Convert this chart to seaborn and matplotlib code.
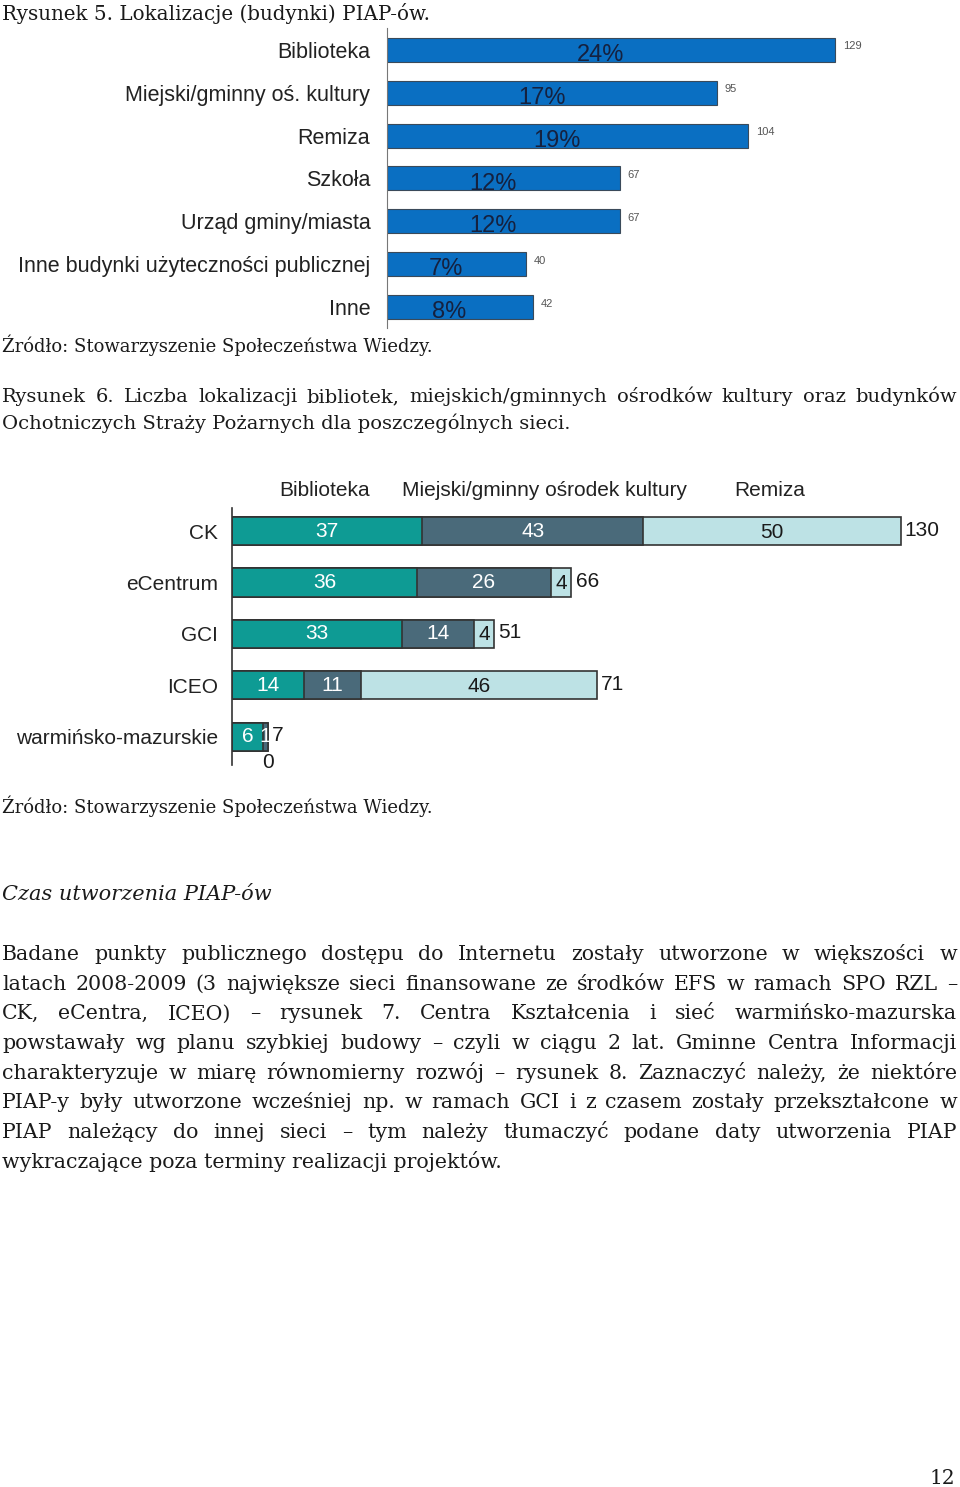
import matplotlib
matplotlib.use("Agg")
import matplotlib.pyplot as plt
import seaborn as sns

# Rysunek 5 data
loc_labels = ["Biblioteka", "Miejski/gminny oś. kultury", "Remiza", "Szkoła",
              "Urząd gminy/miasta", "Inne budynki użyteczności publicznej", "Inne"]
loc_counts = [129, 95, 104, 67, 67, 40, 42]
loc_pct = ["24%", "17%", "19%", "12%", "12%", "7%", "8%"]

# Rysunek 6 data
networks = ["CK", "eCentrum", "GCI", "ICEO", "warmińsko-mazurskie"]
biblioteka = [37, 36, 33, 14, 6]
osrodek = [43, 26, 14, 11, 1]
remiza = [50, 4, 4, 46, 0]
series_names = ["Biblioteka", "Miejski/gminny ośrodek kultury", "Remiza"]

paragraph = [
    "Badane punkty publicznego dostępu do Internetu zostały utworzone w większości w",
    "latach 2008-2009 (3 największe sieci finansowane ze środków EFS w ramach SPO RZL –",
    "CK, eCentra, ICEO) – rysunek 7. Centra Kształcenia i sieć warmińsko-mazurska",
    "powstawały wg planu szybkiej budowy – czyli w ciągu 2 lat. Gminne Centra Informacji",
    "charakteryzuje w miarę równomierny rozwój – rysunek 8. Zaznaczyć należy, że niektóre",
    "PIAP-y były utworzone wcześniej np. w ramach GCI i z czasem zostały przekształcone w",
    "PIAP należący do innej sieci – tym należy tłumaczyć podane daty utworzenia PIAP",
    "wykraczające poza terminy realizacji projektów.",
]

W, H = 960, 1487
BLUE = "#0a6fc2"
TEAL = "#0e9b94"
SLATE = "#4a6a7a"
LIGHT = "#bde2e5"
SERIF = "DejaVu Serif"
SANS = "Liberation Sans"

sns.set_style("white")
fig = plt.figure(figsize=(W / 100, H / 100), dpi=100)
renderer = fig.canvas.get_renderer()


def fy(y):
    return 1 - y / H


def put(x, y, s, **kw):
    kw.setdefault("family", SERIF)
    kw.setdefault("fontsize", 13.5)
    kw.setdefault("color", "#1a1a1a")
    return fig.text(x / W, fy(y), s, va="baseline", **kw)


def justified(y, line, x0=2, x1=957, **kw):
    words = line.split()
    arts = [put(0, y, w, **kw) for w in words]
    widths = [a.get_window_extent(renderer).width for a in arts]
    gap = (x1 - x0 - sum(widths)) / max(len(words) - 1, 1)
    x = x0
    for a, w in zip(arts, widths):
        a.set_x(x / W)
        x += w + gap


# ---- Rysunek 5 ----
ax1 = fig.add_axes([387 / W, fy(328.5), 521 / W, 300 / H])
sns.barplot(x=loc_counts, y=loc_labels, orient="h", color=BLUE, saturation=1,
            width=0.56, edgecolor="#3a4a5a", linewidth=0.8, ax=ax1)
ax1.set_xlim(0, 150)
ax1.set_ylim(6.5, -0.5)
for i, (c, p) in enumerate(zip(loc_counts, loc_pct)):
    ax1.text(c / 2 - 3, i + 0.12, p, ha="center", va="center", fontsize=17,
             family=SANS, color="#15213f")
    ax1.text(c + 2.3, i - 0.08, str(c), ha="left", va="center", fontsize=8,
             family=SANS, color="#555555")
ax1.xaxis.set_visible(False)
for s in ["top", "right", "bottom"]:
    ax1.spines[s].set_visible(False)
ax1.spines["left"].set_color("#777777")
ax1.tick_params(axis="y", length=0, pad=12, labelsize=15.5)
for t in ax1.get_yticklabels():
    t.set_family(SANS)
    t.set_color("#222222")
ax1.set_xlabel("")
ax1.set_ylabel("")

# ---- Rysunek 6 ----
ax2 = fig.add_axes([232 / W, fy(765), 720 / W, 257 / H])
totals = [b + o + r for b, o, r in zip(biblioteka, osrodek, remiza)]
bo = [b + o for b, o in zip(biblioteka, osrodek)]
for vals, col in [(totals, LIGHT), (bo, SLATE), (biblioteka, TEAL)]:
    sns.barplot(x=vals, y=networks, orient="h", color=col, saturation=1,
                width=0.55, edgecolor="#333333", linewidth=1.2, ax=ax2)
ax2.set_xlim(0, 140)
ax2.set_ylim(4.55, -0.45)
for i in range(len(networks)):
    b, o, r = biblioteka[i], osrodek[i], remiza[i]
    ax2.text(b / 2, i, str(b), ha="center", va="center", fontsize=15,
             family=SANS, color="white")
    ax2.text(b + o / 2, i, str(o), ha="center", va="center", fontsize=15,
             family=SANS, color="white")
    if r > 0:
        ax2.text(b + o + r / 2, i + 0.02, str(r), ha="center", va="center",
                 fontsize=15, family=SANS, color="#1a1a1a")
    else:
        ax2.text(b + o, i + 0.5, str(r), ha="center", va="center",
                 fontsize=15, family=SANS, color="#1a1a1a")
    ax2.text(totals[i] + 0.8, i - 0.02, str(totals[i]), ha="left", va="center",
             fontsize=15, family=SANS, color="#1a1a1a")
ax2.xaxis.set_visible(False)
for s in ["top", "right", "bottom"]:
    ax2.spines[s].set_visible(False)
ax2.spines["left"].set_color("#333333")
ax2.spines["left"].set_linewidth(1.2)
ax2.tick_params(axis="y", length=0, pad=10, labelsize=15)
for t in ax2.get_yticklabels():
    t.set_family(SANS)
    t.set_color("#222222")
ax2.set_xlabel("")
ax2.set_ylabel("")

for name, xc in zip(series_names, [325, 545, 770]):
    fig.text(xc / W, fy(496), name, ha="center", va="baseline", fontsize=15,
             family=SANS, color="#222222")

# ---- page text ----
put(2, 20, "Rysunek 5. Lokalizacje (budynki) PIAP-ów.", fontsize=14.3)
put(2, 352, "Źródło: Stowarzyszenie Społeczeństwa Wiedzy.", fontsize=13)
justified(402, "Rysunek 6. Liczba lokalizacji bibliotek, miejskich/gminnych ośrodków kultury oraz budynków",
          fontsize=14)
put(2, 429, "Ochotniczych Straży Pożarnych dla poszczególnych sieci.", fontsize=14)
put(2, 813, "Źródło: Stowarzyszenie Społeczeństwa Wiedzy.", fontsize=13)
put(2, 900, "Czas utworzenia PIAP-ów", style="italic", fontsize=15)

base = 960
for k, line in enumerate(paragraph):
    y = base + k * 29.7
    if k < len(paragraph) - 1:
        justified(y, line, fontsize=14.8)
    else:
        put(2, y, line, fontsize=14.8)

put(955, 1484, "12", ha="right", fontsize=14.5)

fig.savefig("out.png", dpi=100)
